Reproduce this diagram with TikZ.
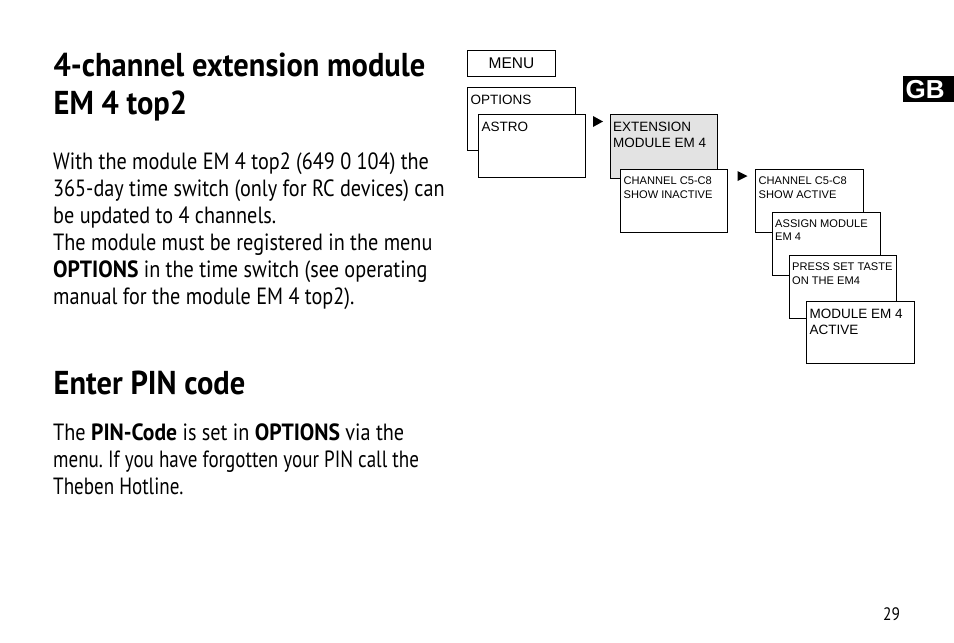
\documentclass[tikz,border=0pt]{standalone}
\usepackage{fontspec}
\setmainfont[FakeStretch=0.86, BoldFeatures={FakeStretch=0.92}]{PT Sans}
\newfontfamily\boxfont{Liberation Sans}
\newfontfamily\narrowfont[FakeStretch=0.81]{PT Sans}
\frenchspacing
\tikzset{
  screenbox/.style={draw=black, line width=0.9pt, fill=white, anchor=north west, inner sep=0pt},
  boxlabel/.style={anchor=north west, inner sep=0pt, align=left, text=black},
  bodytext/.style={anchor=north west, inner sep=0pt, align=left, font=\fontsize{23.5}{27}\selectfont},
  headtext/.style={anchor=north west, inner sep=0pt, align=left, font=\fontsize{33.1}{38}\selectfont\bfseries},
  bigbox/.style={font=\boxfont\fontsize{13.5}{16}\selectfont},
  smallbox/.style={font=\boxfont\fontsize{11.1}{14}\selectfont}
}
\begin{document}
\begin{tikzpicture}[x=1pt, y=-1pt]
    \useasboundingbox (0, 0) rectangle (954, 643);
    \begin{scope}
      % left column
      \node[headtext] (headmodule) at (53.5, 53) {4-channel extension module\\EM 4 top2};
      \node[bodytext] (bodymodule) at (53, 153) {With the module EM 4 top2 (649 0 104) the\\365-day time switch (only for RC devices) can\\be updated to 4 channels.\\The module must be registered in the menu\\\textbf{OPTIONS} in the time switch (see operating\\manual for the module EM 4 top2).};
      \node[headtext] (headpin) at (53.5, 371) {Enter PIN code};
      \node[bodytext] (bodypin) at (53, 424) {The \textbf{PIN-Code} is set in \textbf{OPTIONS} via the\\{\narrowfont menu. If you have forgotten your PIN call the}\\{\narrowfont Theben Hotline.}};
    \end{scope}
    \begin{scope}
      % menu screens
      \node[screenbox, minimum width=88pt, minimum height=26pt] (menu) at (467, 50) {};
      \node[font=\boxfont\fontsize{15.5}{18}\selectfont] (menulabel) at (menu.center) {MENU};
      \node[screenbox, minimum width=107.5pt, minimum height=62.5pt] (options) at (467, 87) {};
      \node[boxlabel, bigbox] (optionslabel) at (470.5, 95) {OPTIONS};
      \node[screenbox, minimum width=107pt, minimum height=62.5pt] (astro) at (478, 114) {};
      \node[boxlabel, bigbox] (astrolabel) at (481.5, 122) {ASTRO};
      \node[screenbox, fill=black!11, minimum width=107.5pt, minimum height=63.5pt] (extension) at (609.5, 114) {};
      \node[boxlabel, bigbox] (extensionlabel) at (613, 122) {EXTENSION\\MODULE EM 4};
      \node[screenbox, minimum width=107pt, minimum height=63pt] (inactive) at (620, 169) {};
      \node[boxlabel, smallbox] (inactivelabel) at (623.5, 177) {CHANNEL C5-C8\\SHOW INACTIVE};
      \node[screenbox, minimum width=108pt, minimum height=63pt] (active) at (755, 169) {};
      \node[boxlabel, smallbox] (activelabel) at (758.5, 177) {CHANNEL C5-C8\\SHOW ACTIVE};
      \node[screenbox, minimum width=107.5pt, minimum height=62.5pt] (assign) at (772, 212) {};
      \node[boxlabel, smallbox] (assignlabel) at (775, 219.5) {ASSIGN MODULE\\[-1pt]EM 4};
      \node[screenbox, minimum width=107pt, minimum height=62.5pt] (press) at (789, 255) {};
      \node[boxlabel, smallbox] (presslabel) at (792, 263) {PRESS SET TASTE\\ON THE EM4};
      \node[screenbox, minimum width=108pt, minimum height=62pt] (active2) at (806, 301) {};
      \node[boxlabel, bigbox] (active2label) at (809.5, 309) {MODULE EM 4\\ACTIVE};
    \end{scope}
    % small arrows
    \fill (593, 116) -- (603, 121.5) -- (593, 127) -- cycle;
    \fill (737.5, 171) -- (747.5, 176) -- (737.5, 181) -- cycle;
    \node[fill=black, text=white, inner xsep=2.5pt, inner ysep=0pt, text width=46pt, align=left, minimum height=26pt, anchor=north west,
      font=\boxfont\bfseries\fontsize{26}{26}\selectfont] (gb) at (903, 76) {GB};
    \node[anchor=north west, inner sep=0pt, font=\fontsize{18}{18}\selectfont] (pagenum) at (883, 607) {29};
\end{tikzpicture}
\end{document}
